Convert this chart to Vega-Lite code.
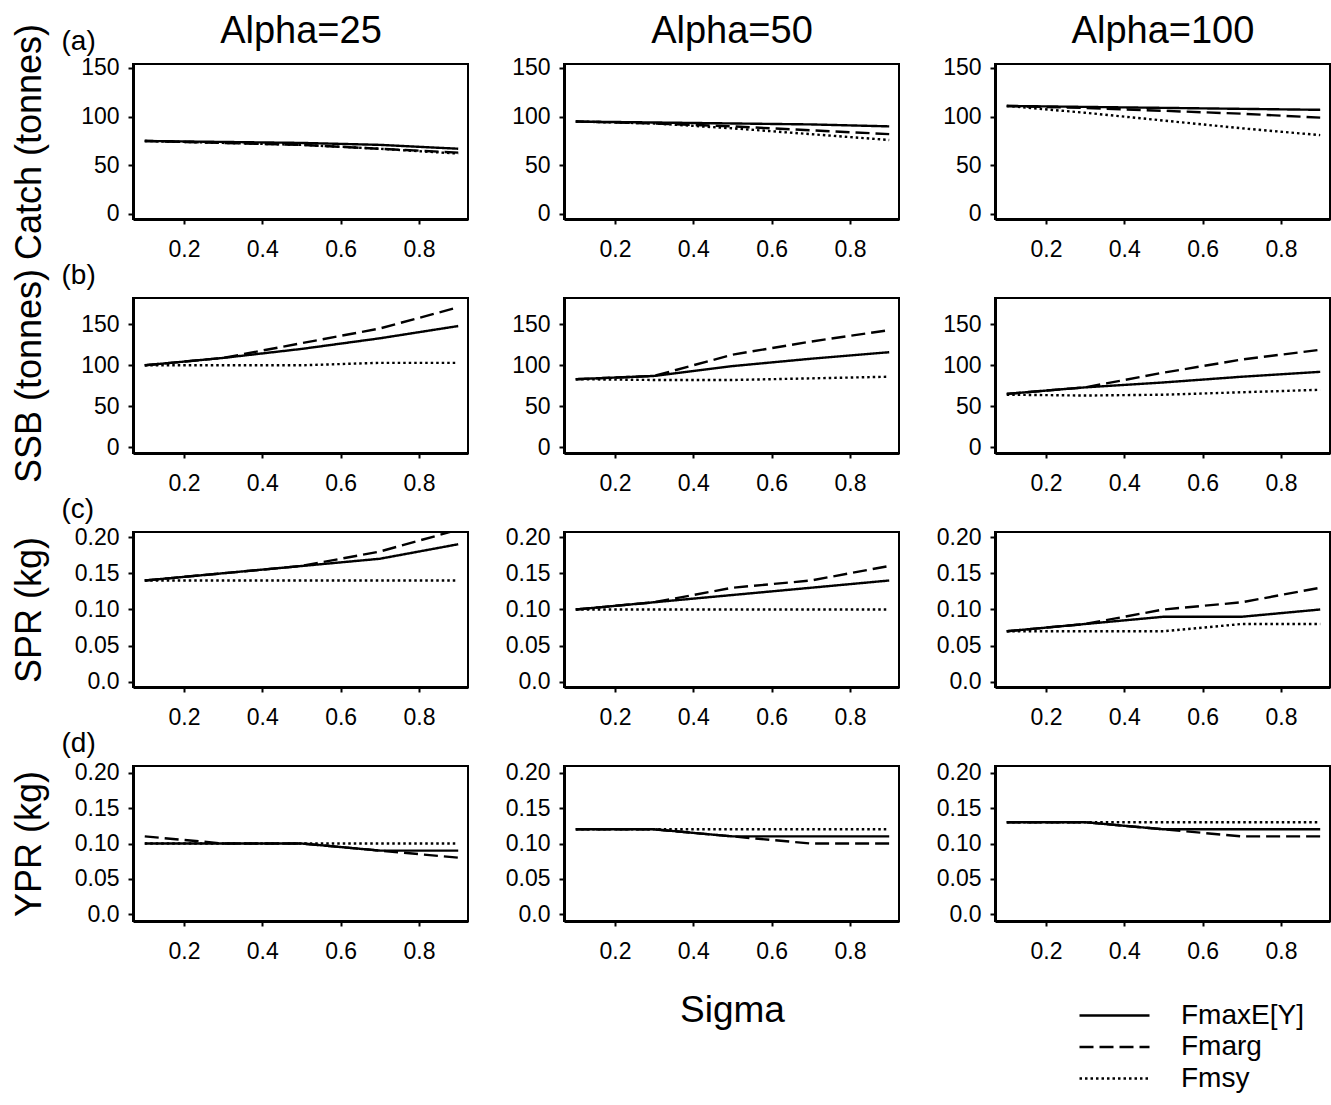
{
"$schema":"https://vega.github.io/schema/vega-lite/v6.json",
"background":"white",
"padding":{"left":9,"top":11,"right":0,"bottom":0},
"data":{"values":[
{"m":"Catch","a":25,"f":"FmaxE[Y]","s":0.1,"v":75},{"m":"Catch","a":25,"f":"FmaxE[Y]","s":0.3,"v":74},{"m":"Catch","a":25,"f":"FmaxE[Y]","s":0.5,"v":73},{"m":"Catch","a":25,"f":"FmaxE[Y]","s":0.7,"v":71},{"m":"Catch","a":25,"f":"FmaxE[Y]","s":0.9,"v":67},
{"m":"Catch","a":25,"f":"Fmarg","s":0.1,"v":75},{"m":"Catch","a":25,"f":"Fmarg","s":0.3,"v":73},{"m":"Catch","a":25,"f":"Fmarg","s":0.5,"v":71},{"m":"Catch","a":25,"f":"Fmarg","s":0.7,"v":67},{"m":"Catch","a":25,"f":"Fmarg","s":0.9,"v":63},
{"m":"Catch","a":25,"f":"Fmsy","s":0.1,"v":75},{"m":"Catch","a":25,"f":"Fmsy","s":0.3,"v":73},{"m":"Catch","a":25,"f":"Fmsy","s":0.5,"v":71},{"m":"Catch","a":25,"f":"Fmsy","s":0.7,"v":67},{"m":"Catch","a":25,"f":"Fmsy","s":0.9,"v":62},
{"m":"Catch","a":50,"f":"FmaxE[Y]","s":0.1,"v":95},{"m":"Catch","a":50,"f":"FmaxE[Y]","s":0.3,"v":94},{"m":"Catch","a":50,"f":"FmaxE[Y]","s":0.5,"v":93},{"m":"Catch","a":50,"f":"FmaxE[Y]","s":0.7,"v":92},{"m":"Catch","a":50,"f":"FmaxE[Y]","s":0.9,"v":90},
{"m":"Catch","a":50,"f":"Fmarg","s":0.1,"v":95},{"m":"Catch","a":50,"f":"Fmarg","s":0.3,"v":93},{"m":"Catch","a":50,"f":"Fmarg","s":0.5,"v":90},{"m":"Catch","a":50,"f":"Fmarg","s":0.7,"v":86},{"m":"Catch","a":50,"f":"Fmarg","s":0.9,"v":82},
{"m":"Catch","a":50,"f":"Fmsy","s":0.1,"v":95},{"m":"Catch","a":50,"f":"Fmsy","s":0.3,"v":93},{"m":"Catch","a":50,"f":"Fmsy","s":0.5,"v":88},{"m":"Catch","a":50,"f":"Fmsy","s":0.7,"v":82},{"m":"Catch","a":50,"f":"Fmsy","s":0.9,"v":76},
{"m":"Catch","a":100,"f":"FmaxE[Y]","s":0.1,"v":111},{"m":"Catch","a":100,"f":"FmaxE[Y]","s":0.3,"v":110},{"m":"Catch","a":100,"f":"FmaxE[Y]","s":0.5,"v":109},{"m":"Catch","a":100,"f":"FmaxE[Y]","s":0.7,"v":108},{"m":"Catch","a":100,"f":"FmaxE[Y]","s":0.9,"v":107},
{"m":"Catch","a":100,"f":"Fmarg","s":0.1,"v":111},{"m":"Catch","a":100,"f":"Fmarg","s":0.3,"v":109},{"m":"Catch","a":100,"f":"Fmarg","s":0.5,"v":106},{"m":"Catch","a":100,"f":"Fmarg","s":0.7,"v":103},{"m":"Catch","a":100,"f":"Fmarg","s":0.9,"v":99},
{"m":"Catch","a":100,"f":"Fmsy","s":0.1,"v":111},{"m":"Catch","a":100,"f":"Fmsy","s":0.3,"v":104},{"m":"Catch","a":100,"f":"Fmsy","s":0.5,"v":96},{"m":"Catch","a":100,"f":"Fmsy","s":0.7,"v":88},{"m":"Catch","a":100,"f":"Fmsy","s":0.9,"v":81},
{"m":"SSB","a":25,"f":"FmaxE[Y]","s":0.1,"v":100},{"m":"SSB","a":25,"f":"FmaxE[Y]","s":0.3,"v":109},{"m":"SSB","a":25,"f":"FmaxE[Y]","s":0.5,"v":120},{"m":"SSB","a":25,"f":"FmaxE[Y]","s":0.7,"v":133},{"m":"SSB","a":25,"f":"FmaxE[Y]","s":0.9,"v":148},
{"m":"SSB","a":25,"f":"Fmarg","s":0.1,"v":100},{"m":"SSB","a":25,"f":"Fmarg","s":0.3,"v":109},{"m":"SSB","a":25,"f":"Fmarg","s":0.5,"v":127},{"m":"SSB","a":25,"f":"Fmarg","s":0.7,"v":145},{"m":"SSB","a":25,"f":"Fmarg","s":0.9,"v":171},
{"m":"SSB","a":25,"f":"Fmsy","s":0.1,"v":100},{"m":"SSB","a":25,"f":"Fmsy","s":0.3,"v":100},{"m":"SSB","a":25,"f":"Fmsy","s":0.5,"v":100},{"m":"SSB","a":25,"f":"Fmsy","s":0.7,"v":103},{"m":"SSB","a":25,"f":"Fmsy","s":0.9,"v":103},
{"m":"SSB","a":50,"f":"FmaxE[Y]","s":0.1,"v":83},{"m":"SSB","a":50,"f":"FmaxE[Y]","s":0.3,"v":87},{"m":"SSB","a":50,"f":"FmaxE[Y]","s":0.5,"v":99},{"m":"SSB","a":50,"f":"FmaxE[Y]","s":0.7,"v":108},{"m":"SSB","a":50,"f":"FmaxE[Y]","s":0.9,"v":116},
{"m":"SSB","a":50,"f":"Fmarg","s":0.1,"v":83},{"m":"SSB","a":50,"f":"Fmarg","s":0.3,"v":87},{"m":"SSB","a":50,"f":"Fmarg","s":0.5,"v":113},{"m":"SSB","a":50,"f":"Fmarg","s":0.7,"v":129},{"m":"SSB","a":50,"f":"Fmarg","s":0.9,"v":143},
{"m":"SSB","a":50,"f":"Fmsy","s":0.1,"v":83},{"m":"SSB","a":50,"f":"Fmsy","s":0.3,"v":82},{"m":"SSB","a":50,"f":"Fmsy","s":0.5,"v":82},{"m":"SSB","a":50,"f":"Fmsy","s":0.7,"v":84},{"m":"SSB","a":50,"f":"Fmsy","s":0.9,"v":86},
{"m":"SSB","a":100,"f":"FmaxE[Y]","s":0.1,"v":65},{"m":"SSB","a":100,"f":"FmaxE[Y]","s":0.3,"v":73},{"m":"SSB","a":100,"f":"FmaxE[Y]","s":0.5,"v":79},{"m":"SSB","a":100,"f":"FmaxE[Y]","s":0.7,"v":86},{"m":"SSB","a":100,"f":"FmaxE[Y]","s":0.9,"v":92},
{"m":"SSB","a":100,"f":"Fmarg","s":0.1,"v":65},{"m":"SSB","a":100,"f":"Fmarg","s":0.3,"v":73},{"m":"SSB","a":100,"f":"Fmarg","s":0.5,"v":91},{"m":"SSB","a":100,"f":"Fmarg","s":0.7,"v":107},{"m":"SSB","a":100,"f":"Fmarg","s":0.9,"v":119},
{"m":"SSB","a":100,"f":"Fmsy","s":0.1,"v":64},{"m":"SSB","a":100,"f":"Fmsy","s":0.3,"v":63},{"m":"SSB","a":100,"f":"Fmsy","s":0.5,"v":64},{"m":"SSB","a":100,"f":"Fmsy","s":0.7,"v":67},{"m":"SSB","a":100,"f":"Fmsy","s":0.9,"v":70},
{"m":"SPR","a":25,"f":"FmaxE[Y]","s":0.1,"v":0.14},{"m":"SPR","a":25,"f":"FmaxE[Y]","s":0.3,"v":0.15},{"m":"SPR","a":25,"f":"FmaxE[Y]","s":0.5,"v":0.16},{"m":"SPR","a":25,"f":"FmaxE[Y]","s":0.7,"v":0.17},{"m":"SPR","a":25,"f":"FmaxE[Y]","s":0.9,"v":0.19},
{"m":"SPR","a":25,"f":"Fmarg","s":0.1,"v":0.14},{"m":"SPR","a":25,"f":"Fmarg","s":0.3,"v":0.15},{"m":"SPR","a":25,"f":"Fmarg","s":0.5,"v":0.16},{"m":"SPR","a":25,"f":"Fmarg","s":0.7,"v":0.18},{"m":"SPR","a":25,"f":"Fmarg","s":0.9,"v":0.21},
{"m":"SPR","a":25,"f":"Fmsy","s":0.1,"v":0.14},{"m":"SPR","a":25,"f":"Fmsy","s":0.3,"v":0.14},{"m":"SPR","a":25,"f":"Fmsy","s":0.5,"v":0.14},{"m":"SPR","a":25,"f":"Fmsy","s":0.7,"v":0.14},{"m":"SPR","a":25,"f":"Fmsy","s":0.9,"v":0.14},
{"m":"SPR","a":50,"f":"FmaxE[Y]","s":0.1,"v":0.10},{"m":"SPR","a":50,"f":"FmaxE[Y]","s":0.3,"v":0.11},{"m":"SPR","a":50,"f":"FmaxE[Y]","s":0.5,"v":0.12},{"m":"SPR","a":50,"f":"FmaxE[Y]","s":0.7,"v":0.13},{"m":"SPR","a":50,"f":"FmaxE[Y]","s":0.9,"v":0.14},
{"m":"SPR","a":50,"f":"Fmarg","s":0.1,"v":0.10},{"m":"SPR","a":50,"f":"Fmarg","s":0.3,"v":0.11},{"m":"SPR","a":50,"f":"Fmarg","s":0.5,"v":0.13},{"m":"SPR","a":50,"f":"Fmarg","s":0.7,"v":0.14},{"m":"SPR","a":50,"f":"Fmarg","s":0.9,"v":0.16},
{"m":"SPR","a":50,"f":"Fmsy","s":0.1,"v":0.10},{"m":"SPR","a":50,"f":"Fmsy","s":0.3,"v":0.10},{"m":"SPR","a":50,"f":"Fmsy","s":0.5,"v":0.10},{"m":"SPR","a":50,"f":"Fmsy","s":0.7,"v":0.10},{"m":"SPR","a":50,"f":"Fmsy","s":0.9,"v":0.10},
{"m":"SPR","a":100,"f":"FmaxE[Y]","s":0.1,"v":0.07},{"m":"SPR","a":100,"f":"FmaxE[Y]","s":0.3,"v":0.08},{"m":"SPR","a":100,"f":"FmaxE[Y]","s":0.5,"v":0.09},{"m":"SPR","a":100,"f":"FmaxE[Y]","s":0.7,"v":0.09},{"m":"SPR","a":100,"f":"FmaxE[Y]","s":0.9,"v":0.10},
{"m":"SPR","a":100,"f":"Fmarg","s":0.1,"v":0.07},{"m":"SPR","a":100,"f":"Fmarg","s":0.3,"v":0.08},{"m":"SPR","a":100,"f":"Fmarg","s":0.5,"v":0.10},{"m":"SPR","a":100,"f":"Fmarg","s":0.7,"v":0.11},{"m":"SPR","a":100,"f":"Fmarg","s":0.9,"v":0.13},
{"m":"SPR","a":100,"f":"Fmsy","s":0.1,"v":0.07},{"m":"SPR","a":100,"f":"Fmsy","s":0.3,"v":0.07},{"m":"SPR","a":100,"f":"Fmsy","s":0.5,"v":0.07},{"m":"SPR","a":100,"f":"Fmsy","s":0.7,"v":0.08},{"m":"SPR","a":100,"f":"Fmsy","s":0.9,"v":0.08},
{"m":"YPR","a":25,"f":"FmaxE[Y]","s":0.1,"v":0.10},{"m":"YPR","a":25,"f":"FmaxE[Y]","s":0.3,"v":0.10},{"m":"YPR","a":25,"f":"FmaxE[Y]","s":0.5,"v":0.10},{"m":"YPR","a":25,"f":"FmaxE[Y]","s":0.7,"v":0.09},{"m":"YPR","a":25,"f":"FmaxE[Y]","s":0.9,"v":0.09},
{"m":"YPR","a":25,"f":"Fmarg","s":0.1,"v":0.11},{"m":"YPR","a":25,"f":"Fmarg","s":0.3,"v":0.10},{"m":"YPR","a":25,"f":"Fmarg","s":0.5,"v":0.10},{"m":"YPR","a":25,"f":"Fmarg","s":0.7,"v":0.09},{"m":"YPR","a":25,"f":"Fmarg","s":0.9,"v":0.08},
{"m":"YPR","a":25,"f":"Fmsy","s":0.1,"v":0.10},{"m":"YPR","a":25,"f":"Fmsy","s":0.3,"v":0.10},{"m":"YPR","a":25,"f":"Fmsy","s":0.5,"v":0.10},{"m":"YPR","a":25,"f":"Fmsy","s":0.7,"v":0.10},{"m":"YPR","a":25,"f":"Fmsy","s":0.9,"v":0.10},
{"m":"YPR","a":50,"f":"FmaxE[Y]","s":0.1,"v":0.12},{"m":"YPR","a":50,"f":"FmaxE[Y]","s":0.3,"v":0.12},{"m":"YPR","a":50,"f":"FmaxE[Y]","s":0.5,"v":0.11},{"m":"YPR","a":50,"f":"FmaxE[Y]","s":0.7,"v":0.11},{"m":"YPR","a":50,"f":"FmaxE[Y]","s":0.9,"v":0.11},
{"m":"YPR","a":50,"f":"Fmarg","s":0.1,"v":0.12},{"m":"YPR","a":50,"f":"Fmarg","s":0.3,"v":0.12},{"m":"YPR","a":50,"f":"Fmarg","s":0.5,"v":0.11},{"m":"YPR","a":50,"f":"Fmarg","s":0.7,"v":0.10},{"m":"YPR","a":50,"f":"Fmarg","s":0.9,"v":0.10},
{"m":"YPR","a":50,"f":"Fmsy","s":0.1,"v":0.12},{"m":"YPR","a":50,"f":"Fmsy","s":0.3,"v":0.12},{"m":"YPR","a":50,"f":"Fmsy","s":0.5,"v":0.12},{"m":"YPR","a":50,"f":"Fmsy","s":0.7,"v":0.12},{"m":"YPR","a":50,"f":"Fmsy","s":0.9,"v":0.12},
{"m":"YPR","a":100,"f":"FmaxE[Y]","s":0.1,"v":0.13},{"m":"YPR","a":100,"f":"FmaxE[Y]","s":0.3,"v":0.13},{"m":"YPR","a":100,"f":"FmaxE[Y]","s":0.5,"v":0.12},{"m":"YPR","a":100,"f":"FmaxE[Y]","s":0.7,"v":0.12},{"m":"YPR","a":100,"f":"FmaxE[Y]","s":0.9,"v":0.12},
{"m":"YPR","a":100,"f":"Fmarg","s":0.1,"v":0.13},{"m":"YPR","a":100,"f":"Fmarg","s":0.3,"v":0.13},{"m":"YPR","a":100,"f":"Fmarg","s":0.5,"v":0.12},{"m":"YPR","a":100,"f":"Fmarg","s":0.7,"v":0.11},{"m":"YPR","a":100,"f":"Fmarg","s":0.9,"v":0.11},
{"m":"YPR","a":100,"f":"Fmsy","s":0.1,"v":0.13},{"m":"YPR","a":100,"f":"Fmsy","s":0.3,"v":0.13},{"m":"YPR","a":100,"f":"Fmsy","s":0.5,"v":0.13},{"m":"YPR","a":100,"f":"Fmsy","s":0.7,"v":0.13},{"m":"YPR","a":100,"f":"Fmsy","s":0.9,"v":0.13}
]},
"columns":3,
"bounds":"flush",
"spacing":{"row":79,"column":96},
"concat":[
{"width":335,"height":155,"transform":[{"filter":"datum.m=='Catch' && datum.a==25"}],
 "layer":[
  {"mark":{"type":"line","color":"black","strokeWidth":2.4,"clip":true},
   "encoding":{
    "x":{"field":"s","type":"quantitative","scale":{"domain":[0.07,0.925],"nice":false,"zero":false},"axis":{"values":[0.2,0.4,0.6,0.8],"format":".1f","title":null}},
    "y":{"field":"v","type":"quantitative","scale":{"domain":[-5.2,154.1],"nice":false,"zero":false},"axis":{"orient":"left","values":[0,50,100,150],"title":"Catch (tonnes)","titleX":-104,"titleY":77.5,"titleAngle":-90,"titleAlign":"center","titleBaseline":"middle"}},
    "strokeDash":{"field":"f","type":"nominal","title":null,"scale":{"domain":["FmaxE[Y]","Fmarg","Fmsy"],"range":[[1,0],[14,6],[2.5,3]]}}}},
  {"mark":{"type":"line","strokeOpacity":0},
   "encoding":{
    "x":{"field":"s","type":"quantitative","scale":{"domain":[0.07,0.925],"nice":false,"zero":false},"axis":{"orient":"top","labels":false,"ticks":false,"domain":false,"title":"Alpha=25","titleX":167.5,"titleY":-33,"titleAlign":"center","titleBaseline":"middle","titleFontSize":38}},
    "y":{"field":"v","type":"quantitative","scale":{"domain":[-5.2,154.1],"nice":false,"zero":false},"axis":{"orient":"left","labels":false,"ticks":false,"domain":false,"title":"(a)","titleX":-72,"titleY":-23,"titleAngle":0,"titleAlign":"left","titleBaseline":"middle","titleFontSize":28}}}}],
 "resolve":{"axis":{"x":"independent","y":"independent"}}},
{"width":335,"height":155,"transform":[{"filter":"datum.m=='Catch' && datum.a==50"}],
 "layer":[
  {"mark":{"type":"line","color":"black","strokeWidth":2.4,"clip":true},
   "encoding":{
    "x":{"field":"s","type":"quantitative","scale":{"domain":[0.07,0.925],"nice":false,"zero":false},"axis":{"values":[0.2,0.4,0.6,0.8],"format":".1f","title":null}},
    "y":{"field":"v","type":"quantitative","scale":{"domain":[-5.2,154.1],"nice":false,"zero":false},"axis":{"orient":"left","values":[0,50,100,150],"title":null}},
    "strokeDash":{"field":"f","type":"nominal","title":null,"scale":{"domain":["FmaxE[Y]","Fmarg","Fmsy"],"range":[[1,0],[14,6],[2.5,3]]}}}},
  {"mark":{"type":"line","strokeOpacity":0},
   "encoding":{
    "x":{"field":"s","type":"quantitative","scale":{"domain":[0.07,0.925],"nice":false,"zero":false},"axis":{"orient":"top","labels":false,"ticks":false,"domain":false,"title":"Alpha=50","titleX":167.5,"titleY":-33,"titleAlign":"center","titleBaseline":"middle","titleFontSize":38}},
    "y":{"field":"v","type":"quantitative","scale":{"domain":[-5.2,154.1],"nice":false,"zero":false},"axis":null}}}],
 "resolve":{"axis":{"x":"independent","y":"independent"}}},
{"width":335,"height":155,"transform":[{"filter":"datum.m=='Catch' && datum.a==100"}],
 "layer":[
  {"mark":{"type":"line","color":"black","strokeWidth":2.4,"clip":true},
   "encoding":{
    "x":{"field":"s","type":"quantitative","scale":{"domain":[0.07,0.925],"nice":false,"zero":false},"axis":{"values":[0.2,0.4,0.6,0.8],"format":".1f","title":null}},
    "y":{"field":"v","type":"quantitative","scale":{"domain":[-5.2,154.1],"nice":false,"zero":false},"axis":{"orient":"left","values":[0,50,100,150],"title":null}},
    "strokeDash":{"field":"f","type":"nominal","title":null,"scale":{"domain":["FmaxE[Y]","Fmarg","Fmsy"],"range":[[1,0],[14,6],[2.5,3]]}}}},
  {"mark":{"type":"line","strokeOpacity":0},
   "encoding":{
    "x":{"field":"s","type":"quantitative","scale":{"domain":[0.07,0.925],"nice":false,"zero":false},"axis":{"orient":"top","labels":false,"ticks":false,"domain":false,"title":"Alpha=100","titleX":167.5,"titleY":-33,"titleAlign":"center","titleBaseline":"middle","titleFontSize":38}},
    "y":{"field":"v","type":"quantitative","scale":{"domain":[-5.2,154.1],"nice":false,"zero":false},"axis":null}}}],
 "resolve":{"axis":{"x":"independent","y":"independent"}}},

{"width":335,"height":155,"transform":[{"filter":"datum.m=='SSB' && datum.a==25"}],
 "layer":[
  {"mark":{"type":"line","color":"black","strokeWidth":2.4,"clip":true},
   "encoding":{
    "x":{"field":"s","type":"quantitative","scale":{"domain":[0.07,0.925],"nice":false,"zero":false},"axis":{"values":[0.2,0.4,0.6,0.8],"format":".1f","title":null}},
    "y":{"field":"v","type":"quantitative","scale":{"domain":[-7.3,182.3],"nice":false,"zero":false},"axis":{"orient":"left","values":[0,50,100,150],"title":"SSB (tonnes)","titleX":-104,"titleY":77.5,"titleAngle":-90,"titleAlign":"center","titleBaseline":"middle"}},
    "strokeDash":{"field":"f","type":"nominal","title":null,"scale":{"domain":["FmaxE[Y]","Fmarg","Fmsy"],"range":[[1,0],[14,6],[2.5,3]]}}}},
  {"mark":{"type":"line","strokeOpacity":0},
   "encoding":{
    "x":{"field":"s","type":"quantitative","scale":{"domain":[0.07,0.925],"nice":false,"zero":false},"axis":null},
    "y":{"field":"v","type":"quantitative","scale":{"domain":[-7.3,182.3],"nice":false,"zero":false},"axis":{"orient":"left","labels":false,"ticks":false,"domain":false,"title":"(b)","titleX":-72,"titleY":-23,"titleAngle":0,"titleAlign":"left","titleBaseline":"middle","titleFontSize":28}}}}],
 "resolve":{"axis":{"x":"independent","y":"independent"}}},
{"width":335,"height":155,"transform":[{"filter":"datum.m=='SSB' && datum.a==50"}],
 "mark":{"type":"line","color":"black","strokeWidth":2.4,"clip":true},
 "encoding":{
  "x":{"field":"s","type":"quantitative","scale":{"domain":[0.07,0.925],"nice":false,"zero":false},"axis":{"values":[0.2,0.4,0.6,0.8],"format":".1f","title":null}},
  "y":{"field":"v","type":"quantitative","scale":{"domain":[-7.3,182.3],"nice":false,"zero":false},"axis":{"values":[0,50,100,150],"title":null}},
  "strokeDash":{"field":"f","type":"nominal","title":null,"scale":{"domain":["FmaxE[Y]","Fmarg","Fmsy"],"range":[[1,0],[14,6],[2.5,3]]}}}},
{"width":335,"height":155,"transform":[{"filter":"datum.m=='SSB' && datum.a==100"}],
 "mark":{"type":"line","color":"black","strokeWidth":2.4,"clip":true},
 "encoding":{
  "x":{"field":"s","type":"quantitative","scale":{"domain":[0.07,0.925],"nice":false,"zero":false},"axis":{"values":[0.2,0.4,0.6,0.8],"format":".1f","title":null}},
  "y":{"field":"v","type":"quantitative","scale":{"domain":[-7.3,182.3],"nice":false,"zero":false},"axis":{"values":[0,50,100,150],"title":null}},
  "strokeDash":{"field":"f","type":"nominal","title":null,"scale":{"domain":["FmaxE[Y]","Fmarg","Fmsy"],"range":[[1,0],[14,6],[2.5,3]]}}}},

{"width":335,"height":155,"transform":[{"filter":"datum.m=='SPR' && datum.a==25"}],
 "layer":[
  {"mark":{"type":"line","color":"black","strokeWidth":2.4,"clip":true},
   "encoding":{
    "x":{"field":"s","type":"quantitative","scale":{"domain":[0.07,0.925],"nice":false,"zero":false},"axis":{"values":[0.2,0.4,0.6,0.8],"format":".1f","title":null}},
    "y":{"field":"v","type":"quantitative","scale":{"domain":[-0.0069,0.2069],"nice":false,"zero":false},"axis":{"orient":"left","values":[0,0.05,0.1,0.15,0.2],"labelExpr":"datum.value == 0 ? '0.0' : format(datum.value, '.2f')","title":"SPR (kg)","titleX":-104,"titleY":77.5,"titleAngle":-90,"titleAlign":"center","titleBaseline":"middle"}},
    "strokeDash":{"field":"f","type":"nominal","title":null,"scale":{"domain":["FmaxE[Y]","Fmarg","Fmsy"],"range":[[1,0],[14,6],[2.5,3]]}}}},
  {"mark":{"type":"line","strokeOpacity":0},
   "encoding":{
    "x":{"field":"s","type":"quantitative","scale":{"domain":[0.07,0.925],"nice":false,"zero":false},"axis":null},
    "y":{"field":"v","type":"quantitative","scale":{"domain":[-0.0069,0.2069],"nice":false,"zero":false},"axis":{"orient":"left","labels":false,"ticks":false,"domain":false,"title":"(c)","titleX":-72,"titleY":-23,"titleAngle":0,"titleAlign":"left","titleBaseline":"middle","titleFontSize":28}}}}],
 "resolve":{"axis":{"x":"independent","y":"independent"}}},
{"width":335,"height":155,"transform":[{"filter":"datum.m=='SPR' && datum.a==50"}],
 "mark":{"type":"line","color":"black","strokeWidth":2.4,"clip":true},
 "encoding":{
  "x":{"field":"s","type":"quantitative","scale":{"domain":[0.07,0.925],"nice":false,"zero":false},"axis":{"values":[0.2,0.4,0.6,0.8],"format":".1f","title":null}},
  "y":{"field":"v","type":"quantitative","scale":{"domain":[-0.0069,0.2069],"nice":false,"zero":false},"axis":{"values":[0,0.05,0.1,0.15,0.2],"labelExpr":"datum.value == 0 ? '0.0' : format(datum.value, '.2f')","title":null}},
  "strokeDash":{"field":"f","type":"nominal","title":null,"scale":{"domain":["FmaxE[Y]","Fmarg","Fmsy"],"range":[[1,0],[14,6],[2.5,3]]}}}},
{"width":335,"height":155,"transform":[{"filter":"datum.m=='SPR' && datum.a==100"}],
 "mark":{"type":"line","color":"black","strokeWidth":2.4,"clip":true},
 "encoding":{
  "x":{"field":"s","type":"quantitative","scale":{"domain":[0.07,0.925],"nice":false,"zero":false},"axis":{"values":[0.2,0.4,0.6,0.8],"format":".1f","title":null}},
  "y":{"field":"v","type":"quantitative","scale":{"domain":[-0.0069,0.2069],"nice":false,"zero":false},"axis":{"values":[0,0.05,0.1,0.15,0.2],"labelExpr":"datum.value == 0 ? '0.0' : format(datum.value, '.2f')","title":null}},
  "strokeDash":{"field":"f","type":"nominal","title":null,"scale":{"domain":["FmaxE[Y]","Fmarg","Fmsy"],"range":[[1,0],[14,6],[2.5,3]]}}}},

{"width":335,"height":155,"transform":[{"filter":"datum.m=='YPR' && datum.a==25"}],
 "layer":[
  {"mark":{"type":"line","color":"black","strokeWidth":2.4,"clip":true},
   "encoding":{
    "x":{"field":"s","type":"quantitative","scale":{"domain":[0.07,0.925],"nice":false,"zero":false},"axis":{"values":[0.2,0.4,0.6,0.8],"format":".1f","title":null}},
    "y":{"field":"v","type":"quantitative","scale":{"domain":[-0.0093,0.2093],"nice":false,"zero":false},"axis":{"orient":"left","values":[0,0.05,0.1,0.15,0.2],"labelExpr":"datum.value == 0 ? '0.0' : format(datum.value, '.2f')","title":"YPR (kg)","titleX":-104,"titleY":77.5,"titleAngle":-90,"titleAlign":"center","titleBaseline":"middle"}},
    "strokeDash":{"field":"f","type":"nominal","title":null,"scale":{"domain":["FmaxE[Y]","Fmarg","Fmsy"],"range":[[1,0],[14,6],[2.5,3]]}}}},
  {"mark":{"type":"line","strokeOpacity":0},
   "encoding":{
    "x":{"field":"s","type":"quantitative","scale":{"domain":[0.07,0.925],"nice":false,"zero":false},"axis":null},
    "y":{"field":"v","type":"quantitative","scale":{"domain":[-0.0093,0.2093],"nice":false,"zero":false},"axis":{"orient":"left","labels":false,"ticks":false,"domain":false,"title":"(d)","titleX":-72,"titleY":-23,"titleAngle":0,"titleAlign":"left","titleBaseline":"middle","titleFontSize":28}}}}],
 "resolve":{"axis":{"x":"independent","y":"independent"}}},
{"width":335,"height":155,"transform":[{"filter":"datum.m=='YPR' && datum.a==50"}],
 "mark":{"type":"line","color":"black","strokeWidth":2.4,"clip":true},
 "encoding":{
  "x":{"field":"s","type":"quantitative","scale":{"domain":[0.07,0.925],"nice":false,"zero":false},"axis":{"values":[0.2,0.4,0.6,0.8],"format":".1f","title":"Sigma","titleX":168,"titleY":89,"titleAlign":"center","titleBaseline":"middle","titleFontSize":37}},
  "y":{"field":"v","type":"quantitative","scale":{"domain":[-0.0093,0.2093],"nice":false,"zero":false},"axis":{"values":[0,0.05,0.1,0.15,0.2],"labelExpr":"datum.value == 0 ? '0.0' : format(datum.value, '.2f')","title":null}},
  "strokeDash":{"field":"f","type":"nominal","title":null,"scale":{"domain":["FmaxE[Y]","Fmarg","Fmsy"],"range":[[1,0],[14,6],[2.5,3]]}}}},
{"width":335,"height":155,"transform":[{"filter":"datum.m=='YPR' && datum.a==100"}],
 "mark":{"type":"line","color":"black","strokeWidth":2.4,"clip":true},
 "encoding":{
  "x":{"field":"s","type":"quantitative","scale":{"domain":[0.07,0.925],"nice":false,"zero":false},"axis":{"values":[0.2,0.4,0.6,0.8],"format":".1f","title":null}},
  "y":{"field":"v","type":"quantitative","scale":{"domain":[-0.0093,0.2093],"nice":false,"zero":false},"axis":{"values":[0,0.05,0.1,0.15,0.2],"labelExpr":"datum.value == 0 ? '0.0' : format(datum.value, '.2f')","title":null}},
  "strokeDash":{"field":"f","type":"nominal","title":null,"scale":{"domain":["FmaxE[Y]","Fmarg","Fmsy"],"range":[[1,0],[14,6],[2.5,3]]}}}}
],
"config":{
 "font":"Liberation Sans",
 "view":{"stroke":"black","strokeWidth":2},
 "axis":{"grid":false,"domainColor":"black","domainWidth":3,"tickColor":"black","tickWidth":2,"tickSize":5,"labelColor":"black","labelFont":"Liberation Sans","labelFontSize":23,"titleFont":"Liberation Sans","titleFontSize":36,"titleFontWeight":"normal","titleColor":"black"},
 "axisX":{"labelPadding":14},
 "axisY":{"labelPadding":9},
 "legend":{"orient":"none","legendX":945,"legendY":936,"symbolType":"stroke","symbolSize":4900,"symbolStrokeWidth":2.4,"symbolStrokeColor":"black","labelFont":"Liberation Sans","labelFontSize":28,"labelColor":"black","labelOffset":30,"rowPadding":0.5,"clipHeight":31}
}
}
